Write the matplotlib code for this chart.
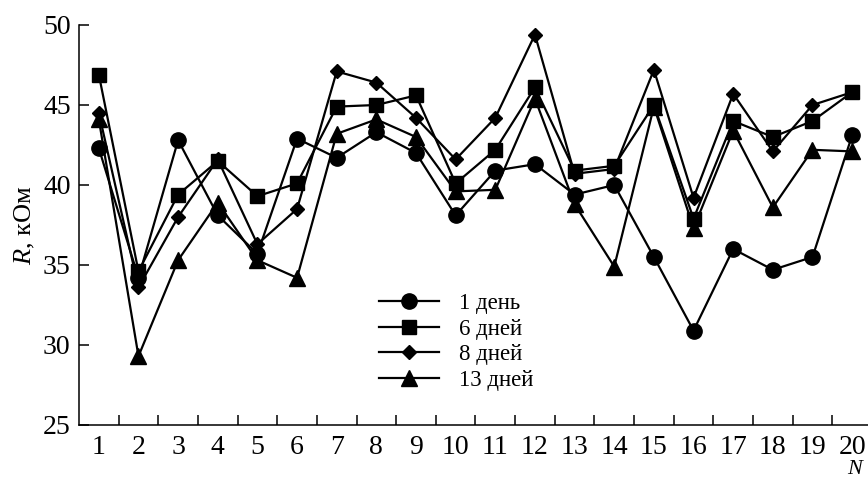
import matplotlib
matplotlib.use("Agg")
import matplotlib.pyplot as plt
import numpy as np

plt.rcParams['font.family'] = ['Liberation Serif', 'DejaVu Serif']
plt.rcParams['mathtext.fontset'] = 'custom'
plt.rcParams['mathtext.it'] = 'Liberation Serif:italic'
plt.rcParams['mathtext.rm'] = 'Liberation Serif'

N = list(range(1, 21))
day1 = [42.3, 34.2, 42.8, 38.1, 35.7, 42.9, 41.7, 43.3, 42.0, 38.1,
        40.9, 41.3, 39.4, 40.0, 35.5, 30.9, 36.0, 34.7, 35.5, 43.1]
days6 = [46.9, 34.6, 39.4, 41.5, 39.3, 40.1, 44.9, 45.0, 45.6, 40.1,
         42.2, 46.1, 40.9, 41.2, 45.0, 37.9, 44.0, 43.0, 44.0, 45.8]
days8 = [44.5, 33.6, 38.0, 41.6, 36.3, 38.5, 47.1, 46.4, 44.2, 41.6,
         44.2, 49.4, 40.7, 41.0, 47.2, 39.2, 45.7, 42.1, 45.0, 45.8]
days13 = [44.1, 29.3, 35.3, 38.9, 35.3, 34.2, 43.2, 44.1, 43.0, 39.6,
          39.7, 45.4, 38.8, 34.9, 44.9, 37.3, 43.4, 38.6, 42.2, 42.1]
labels = ['1 день', '6 дней', '8 дней', '13 дней']

fig = plt.figure(figsize=(8.68, 4.79), dpi=100)
ax = fig.add_axes([79 / 868, 1 - 425 / 479, 1 - 79 / 868, 400 / 479])

series = [(day1, 'o', 11), (days6, 's', 10.5), (days8, 'D', 7), (days13, '^', 12)]
for (vals, mk, ms), lab in zip(series, labels):
    ax.plot(N, vals, color='black', lw=1.6, marker=mk, ms=ms,
            markerfacecolor='black', markeredgecolor='black', label=lab)

ax.set_xlim(0.5, 20.4)
ax.set_ylim(25, 50)
ax.set_yticks([25, 30, 35, 40, 45, 50])
ax.set_xticks(N)
ax.set_xticks(np.arange(1.5, 20.5, 1.0), minor=True)
ax.tick_params(axis='x', which='major', length=0, pad=7, labelsize=20)
ax.tick_params(axis='x', which='minor', direction='in', length=7, width=1.1)
ax.tick_params(axis='y', direction='in', length=7, width=1.1, labelsize=20, pad=6)
for side in ('top', 'right'):
    ax.spines[side].set_visible(False)
for side in ('left', 'bottom'):
    ax.spines[side].set_linewidth(1.1)

ax.set_ylabel(r'$R$, кОм', fontsize=19, labelpad=4)
fig.text(855 / 868, 1 - 469 / 479, 'N', fontsize=16, style='italic',
         ha='center', va='center')

ax.legend(loc='upper left', bbox_to_anchor=(0.36, 0.37), frameon=False,
          fontsize=16.5, handlelength=2.6, handletextpad=0.9, labelspacing=0.2,
          borderpad=0.2)

fig.savefig('out.png', dpi=100)
